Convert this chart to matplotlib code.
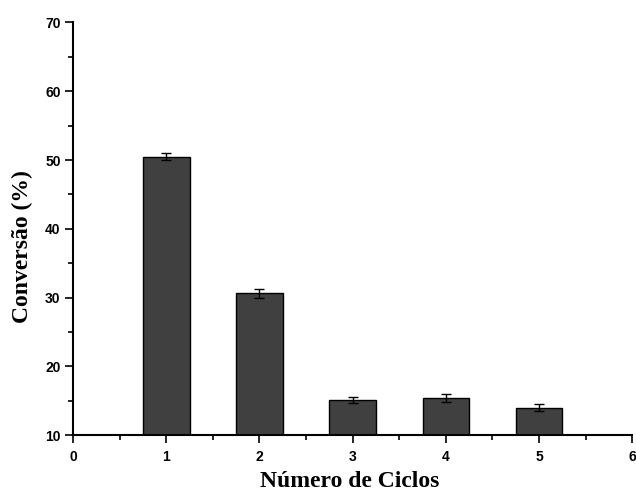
import matplotlib
matplotlib.use("Agg")
import matplotlib.pyplot as plt
from matplotlib.ticker import MultipleLocator

cycles = [1, 2, 3, 4, 5]
conversion = [50.5, 30.6, 15.1, 15.4, 14.0]
errors = [0.5, 0.7, 0.4, 0.6, 0.5]

fig = plt.figure(figsize=(6.36, 4.99), dpi=100)
ax = fig.add_axes([0.115, 0.128, 0.879, 0.827])

ax.bar(cycles, [v - 10 for v in conversion], bottom=10, width=0.5,
       color="#404040", edgecolor="black", linewidth=1.0, zorder=2)
ax.errorbar(cycles, conversion, yerr=errors, fmt="none", ecolor="black",
            elinewidth=1.0, capsize=3.5, capthick=1.0, zorder=3)

ax.set_xlim(0, 6)
ax.set_ylim(10, 70)
ax.xaxis.set_major_locator(MultipleLocator(1))
ax.xaxis.set_minor_locator(MultipleLocator(0.5))
ax.yaxis.set_major_locator(MultipleLocator(10))
ax.yaxis.set_minor_locator(MultipleLocator(5))

for s in ["top", "right"]:
    ax.spines[s].set_visible(False)
for s in ["left", "bottom"]:
    ax.spines[s].set_linewidth(1.5)

ax.tick_params(which="major", direction="out", length=6, width=1.2)
ax.tick_params(which="minor", direction="out", length=3.5, width=1.2)
ax.tick_params(axis="x", pad=5)
ax.tick_params(axis="y", pad=3)
ax.tick_params(labelsize=10)
for lbl in ax.get_xticklabels() + ax.get_yticklabels():
    lbl.set_fontfamily("Liberation Sans")
    lbl.set_fontweight("bold")

ax.set_xlabel("Número de Ciclos", fontfamily="Liberation Serif",
              fontweight="bold", fontsize=17)
ax.set_ylabel("Conversão (%)", fontfamily="Liberation Serif",
              fontweight="bold", fontsize=17)
ax.xaxis.set_label_coords(0.495, -0.088)
ax.yaxis.set_label_coords(-0.072, 0.458)

fig.savefig("out.png", dpi=100)
